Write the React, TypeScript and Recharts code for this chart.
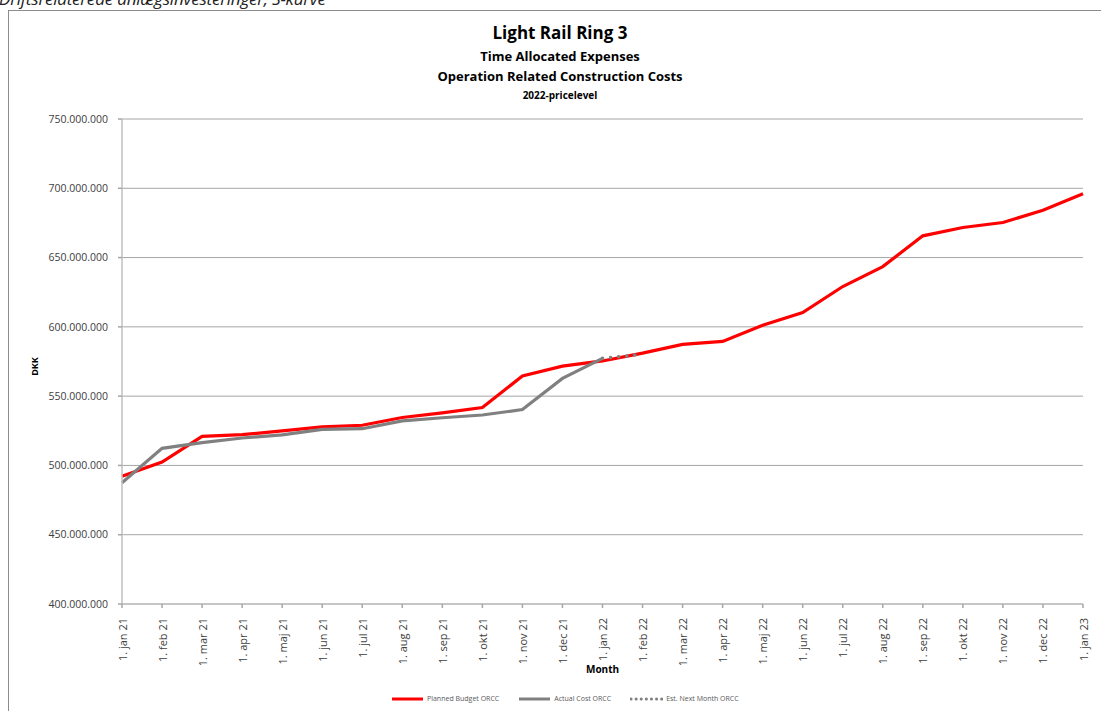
import { LineChart, Line, XAxis, YAxis, CartesianGrid } from "recharts";

const months = [
  "1. jan 21", "1. feb 21", "1. mar 21", "1. apr 21", "1. maj 21", "1. jun 21", "1. jul 21",
  "1. aug 21", "1. sep 21", "1. okt 21", "1. nov 21", "1. dec 21", "1. jan 22", "1. feb 22",
  "1. mar 22", "1. apr 22", "1. maj 22", "1. jun 22", "1. jul 22", "1. aug 22", "1. sep 22",
  "1. okt 22", "1. nov 22", "1. dec 22", "1. jan 23",
];

// values in DKK million
const planned = [
  492.2, 502.4, 521.0, 522.2, 524.9, 527.8, 529.0, 534.6, 537.9, 541.8, 564.5, 571.7, 575.4,
  581.0, 587.3, 589.5, 601.2, 610.3, 629.1, 643.5, 665.7, 671.7, 675.3, 684.1, 696.1,
];
const actual: (number | null)[] = [
  487.5, 512.3, 516.4, 519.8, 522.0, 526.0, 526.5, 532.2, 534.4, 536.4, 540.3, 562.8, 577.3,
];
const estNext: (number | null)[] = [577.3, 580.2]; // jan 22 -> feb 22

const yTicks = [400, 450, 500, 550, 600, 650, 700, 750];

const data = months.map((m, i) => ({
  month: m,
  planned: planned[i] * 1e6,
  actual: actual[i] != null ? (actual[i] as number) * 1e6 : null,
  est: i >= 12 && i < 14 ? (estNext[i - 12] as number) * 1e6 : null,
}));

const FONT = "'Open Sans', 'Noto Sans', sans-serif";

const fmtDkk = (v: number) => Math.round(v).toString().replace(/\B(?=(\d{3})+(?!\d))/g, ".");

function MonthTick({ x, y, payload }: any) {
  return (
    <text
      x={x}
      y={y + 8}
      transform={`rotate(-90, ${x}, ${y + 8})`}
      textAnchor="end"
      dominantBaseline="central"
      fontSize={11}
      fill="#404040"
      fontFamily={FONT}
    >
      {payload.value}
    </text>
  );
}

const titleStyle = (top: number, size: number): React.CSSProperties => ({
  position: "absolute",
  left: 0,
  width: 1120,
  top,
  textAlign: "center",
  fontSize: size,
  lineHeight: `${Math.round(size * 1.3)}px`,
  fontWeight: 700,
  color: "#000",
  fontFamily: FONT,
  whiteSpace: "nowrap",
});

function LegendItem({ color, dashed, label }: { color: string; dashed?: boolean; label: string }) {
  return (
    <span style={{ display: "flex", alignItems: "center", gap: 3 }}>
      <svg width={33} height={6}>
        <line
          x1={1}
          y1={3}
          x2={32}
          y2={3}
          stroke={color}
          strokeWidth={3}
          strokeDasharray={dashed ? "0.1 5" : undefined}
          strokeLinecap={dashed ? "round" : "butt"}
        />
      </svg>
      <span>{label}</span>
    </span>
  );
}

export default function App() {
  return (
    <div style={{ position: "fixed", left: 0, top: 0, width: 1101, height: 711, overflow: "hidden", background: "#fff" }}>
      <div
        style={{
          position: "absolute",
          left: -1,
          top: -13,
          fontSize: 17,
          fontStyle: "italic",
          color: "#222",
          fontFamily: FONT,
          whiteSpace: "nowrap",
          letterSpacing: -0.2,
        }}
      >
        Driftsrelaterede anlægsinvesteringer, S-kurve
      </div>
      <div
        style={{
          position: "absolute",
          left: 8,
          top: 10,
          width: 1110,
          height: 720,
          border: "1px solid #8c8c8c",
          boxSizing: "border-box",
        }}
      />
      <div style={titleStyle(22, 17)}>Light Rail Ring 3</div>
      <div style={titleStyle(48, 13)}>Time Allocated Expenses</div>
      <div style={titleStyle(68, 13)}>Operation Related Construction Costs</div>
      <div style={titleStyle(89, 10)}>2022-pricelevel</div>

      <div style={{ position: "absolute", left: 0, top: 0 }}>
        <LineChart width={1101} height={711} data={data} margin={{ top: 119, right: 18, bottom: 0, left: 0 }}>
          <CartesianGrid vertical={false} stroke="#a6a6a6" strokeWidth={1} />
          <XAxis
            dataKey="month"
            interval={0}
            height={107}
            tick={<MonthTick />}
            tickSize={4}
            stroke="#c0c0c0"
            strokeWidth={1.5}
            tickLine={{ stroke: "#a6a6a6" }}
          />
          <YAxis
            width={122}
            domain={[400e6, 750e6]}
            ticks={yTicks.map((t) => t * 1e6)}
            tickFormatter={fmtDkk}
            tickSize={4}
            tickMargin={10}
            stroke="#c0c0c0"
            strokeWidth={1.5}
            tickLine={{ stroke: "#a6a6a6" }}
            tick={{ fontSize: 10.5, fill: "#404040", fontFamily: FONT }}
            allowDataOverflow
          />
          <Line
            dataKey="planned"
            stroke="#ff0000"
            strokeWidth={3.2}
            dot={false}
            isAnimationActive={false}
          />
          <Line
            dataKey="actual"
            stroke="#808080"
            strokeWidth={3.2}
            dot={false}
            isAnimationActive={false}
          />
          <Line
            dataKey="est"
            stroke="#808080"
            strokeWidth={3.5}
            strokeDasharray="0.1 8"
            strokeLinecap="round"
            dot={false}
            isAnimationActive={false}
          />
        </LineChart>
      </div>

      <div
        style={{
          position: "absolute",
          left: 25,
          top: 360,
          transform: "rotate(-90deg)",
          fontSize: 9,
          fontWeight: 700,
          fontFamily: FONT,
          color: "#000",
        }}
      >
        DKK
      </div>
      <div
        style={{
          position: "absolute",
          left: 586,
          top: 662,
          fontSize: 10,
          fontWeight: 700,
          fontFamily: FONT,
          color: "#000",
        }}
      >
        Month
      </div>

      <div
        style={{
          position: "absolute",
          left: 391,
          top: 694,
          display: "flex",
          gap: 19,
          fontSize: 7,
          fontFamily: FONT,
          color: "#595959",
        }}
      >
        <LegendItem color="#ff0000" label="Planned Budget ORCC" />
        <LegendItem color="#808080" label="Actual Cost ORCC" />
        <LegendItem color="#808080" dashed label="Est. Next Month ORCC" />
      </div>
    </div>
  );
}
